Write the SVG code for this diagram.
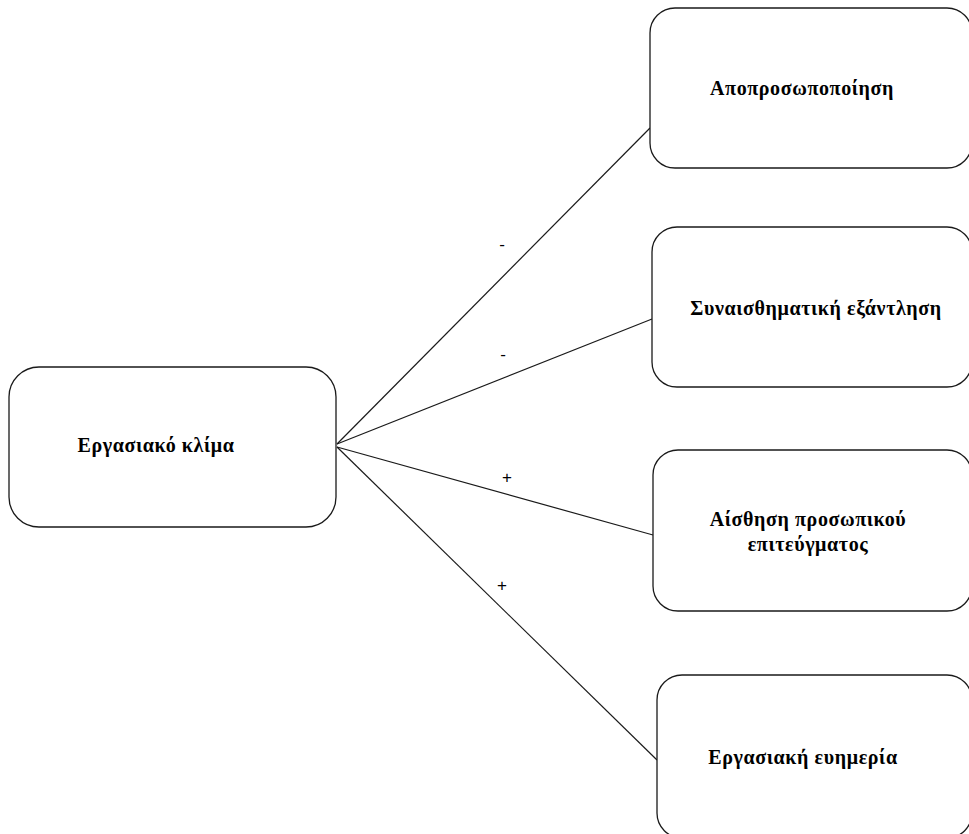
<svg xmlns="http://www.w3.org/2000/svg" width="969" height="834" viewBox="0 0 969 834">
  <style>
    .box { fill: #ffffff; stroke: #1a1a1a; stroke-width: 1.3; }
    .lbl { font-family: "Liberation Serif", "Times New Roman", serif; font-weight: bold; font-size: 20px; letter-spacing: 0.6px; fill: #000; text-anchor: middle; }
    .sign { font-family: "Liberation Sans", Arial, sans-serif; font-size: 17px; fill: #000; text-anchor: middle; }
    .link { stroke: #1a1a1a; stroke-width: 1.2; fill: none; }
  </style>
  <rect width="969" height="834" fill="#ffffff"/>

  <!-- connectors -->
  <g id="connectors">
    <line class="link" x1="337" y1="444" x2="650" y2="128"/>
    <line class="link" x1="337" y1="444" x2="652" y2="319"/>
    <line class="link" x1="337" y1="447" x2="653" y2="535"/>
    <line class="link" x1="337" y1="447" x2="657" y2="760"/>
    <text class="sign" x="502" y="250">-</text>
    <text class="sign" x="503" y="360">-</text>
    <text class="sign" x="507" y="483">+</text>
    <text class="sign" x="502" y="591">+</text>
  </g>

  <g id="node-climate">
    <rect class="box" x="9" y="367" width="327" height="160" rx="30" ry="30"/>
    <text class="lbl" x="156" y="452">Εργασιακό κλίμα</text>
  </g>

  <g id="node-depersonalisation">
    <rect class="box" x="650" y="8" width="322" height="160" rx="25" ry="25"/>
    <text class="lbl" x="802" y="95">Αποπροσωποποίηση</text>
  </g>

  <g id="node-exhaustion">
    <rect class="box" x="652" y="227" width="320" height="160" rx="25" ry="25"/>
    <text class="lbl" x="816" y="315">Συναισθηματική εξάντληση</text>
  </g>

  <g id="node-accomplishment">
    <rect class="box" x="653" y="450" width="319" height="161" rx="25" ry="25"/>
    <text class="lbl" x="808" y="526">Αίσθηση προσωπικού</text>
    <text class="lbl" x="808" y="551">επιτεύγματος</text>
  </g>

  <g id="node-wellbeing">
    <rect class="box" x="657" y="675" width="315" height="163" rx="25" ry="25"/>
    <text class="lbl" x="803" y="764">Εργασιακή ευημερία</text>
  </g>
</svg>
